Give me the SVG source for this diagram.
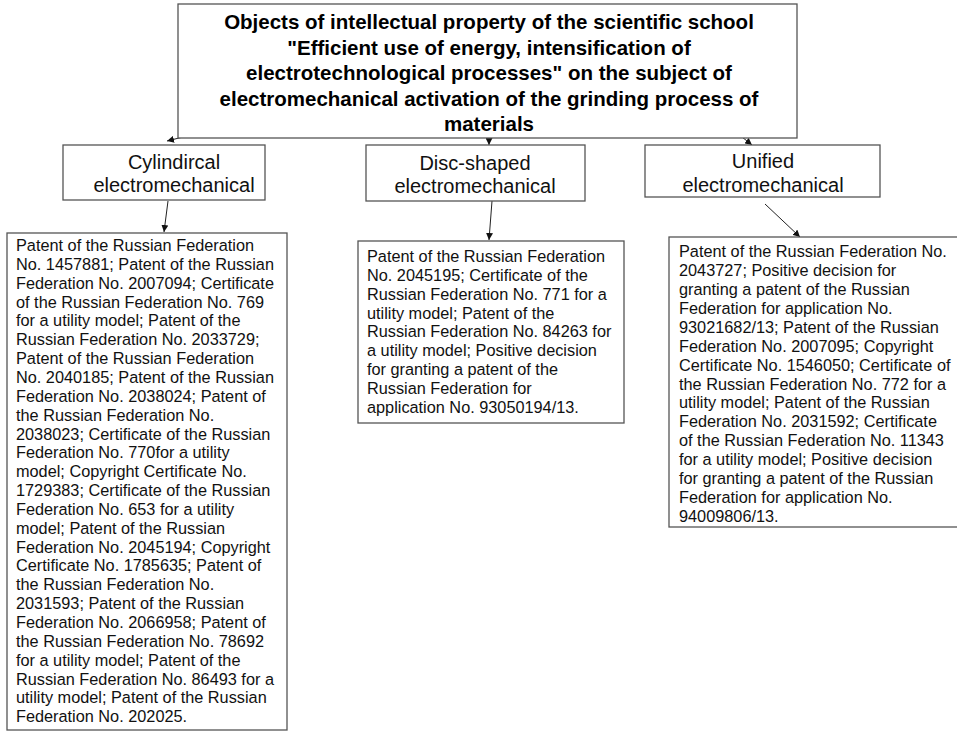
<svg xmlns="http://www.w3.org/2000/svg" width="957" height="733" viewBox="0 0 957 733">
<defs>
<marker id="ah" viewBox="0 0 10 10" refX="10" refY="5" markerWidth="7" markerHeight="7" markerUnits="userSpaceOnUse" orient="auto">
<path d="M0,0 L10,5 L0,10 z" fill="#111"/>
</marker>
<style>
.box{fill:#fff;stroke:#555;stroke-width:1.3}
.title{font-family:"Liberation Sans",Arial,sans-serif;font-size:20.5px;font-weight:bold;fill:#000;text-anchor:middle}
.sub{font-family:"Liberation Sans",Arial,sans-serif;font-size:20px;fill:#111;text-anchor:middle}
.body{font-family:"Liberation Sans",Arial,sans-serif;font-size:16.3px;fill:#111}
.conn{stroke:#222;stroke-width:1;fill:none;marker-end:url(#ah)}
</style>
</defs>
<rect width="957" height="733" fill="#fff"/>
<g id="connectors">
<line class="conn" x1="183" y1="137" x2="167" y2="141"/>
<line class="conn" x1="489" y1="138" x2="489" y2="145"/>
<line class="conn" x1="742" y1="137" x2="752" y2="145"/>
<line class="conn" x1="168" y1="201" x2="164" y2="232"/>
<line class="conn" x1="492" y1="201" x2="489" y2="240"/>
<line class="conn" x1="765" y1="204" x2="800" y2="237"/>
</g>
<g id="root">
<rect class="box" x="178" y="4" width="619" height="134"/>
<text class="title" x="489" y="29">Objects of intellectual property of the scientific school</text>
<text class="title" x="489" y="55">"Efficient use of energy, intensification of</text>
<text class="title" x="489" y="80">electrotechnological processes" on the subject of</text>
<text class="title" x="489" y="106">electromechanical activation of the grinding process of</text>
<text class="title" x="489" y="131">materials</text>
</g>
<g id="cylindrical">
<rect class="box" x="63" y="145" width="202" height="55"/>
<text class="sub" x="174" y="169">Cylindircal</text>
<text class="sub" x="174" y="192">electromechanical</text>
</g>
<g id="disc">
<rect class="box" x="366" y="145" width="219" height="56"/>
<text class="sub" x="475" y="170">Disc-shaped</text>
<text class="sub" x="475" y="193">electromechanical</text>
</g>
<g id="unified">
<rect class="box" x="645" y="145" width="235" height="52"/>
<text class="sub" x="763" y="168">Unified</text>
<text class="sub" x="763" y="192">electromechanical</text>
</g>
<g id="cylindrical-list">
<rect class="box" x="7" y="233" width="280" height="497"/>
<text class="body" x="16" y="251">
<tspan x="16" dy="0">Patent of the Russian Federation</tspan>
<tspan x="16" dy="18.85">No. 1457881; Patent of the Russian</tspan>
<tspan x="16" dy="18.85">Federation No. 2007094; Certificate</tspan>
<tspan x="16" dy="18.85">of the Russian Federation No. 769</tspan>
<tspan x="16" dy="18.85">for a utility model; Patent of the</tspan>
<tspan x="16" dy="18.85">Russian Federation No. 2033729;</tspan>
<tspan x="16" dy="18.85">Patent of the Russian Federation</tspan>
<tspan x="16" dy="18.85">No. 2040185; Patent of the Russian</tspan>
<tspan x="16" dy="18.85">Federation No. 2038024; Patent of</tspan>
<tspan x="16" dy="18.85">the Russian Federation No.</tspan>
<tspan x="16" dy="18.85">2038023; Certificate of the Russian</tspan>
<tspan x="16" dy="18.85">Federation No. 770for a utility</tspan>
<tspan x="16" dy="18.85">model; Copyright Certificate No.</tspan>
<tspan x="16" dy="18.85">1729383; Certificate of the Russian</tspan>
<tspan x="16" dy="18.85">Federation No. 653 for a utility</tspan>
<tspan x="16" dy="18.85">model; Patent of the Russian</tspan>
<tspan x="16" dy="18.85">Federation No. 2045194; Copyright</tspan>
<tspan x="16" dy="18.85">Certificate No. 1785635; Patent of</tspan>
<tspan x="16" dy="18.85">the Russian Federation No.</tspan>
<tspan x="16" dy="18.85">2031593; Patent of the Russian</tspan>
<tspan x="16" dy="18.85">Federation No. 2066958; Patent of</tspan>
<tspan x="16" dy="18.85">the Russian Federation No. 78692</tspan>
<tspan x="16" dy="18.85">for a utility model; Patent of the</tspan>
<tspan x="16" dy="18.85">Russian Federation No. 86493 for a</tspan>
<tspan x="16" dy="18.85">utility model; Patent of the Russian</tspan>
<tspan x="16" dy="18.85">Federation No. 202025.</tspan>
</text>
</g>
<g id="disc-list">
<rect class="box" x="358" y="241" width="266" height="182"/>
<text class="body" x="367" y="262">
<tspan x="367" dy="0">Patent of the Russian Federation</tspan>
<tspan x="367" dy="18.87">No. 2045195; Certificate of the</tspan>
<tspan x="367" dy="18.87">Russian Federation No. 771 for a</tspan>
<tspan x="367" dy="18.87">utility model; Patent of the</tspan>
<tspan x="367" dy="18.87">Russian Federation No. 84263 for</tspan>
<tspan x="367" dy="18.87">a utility model; Positive decision</tspan>
<tspan x="367" dy="18.87">for granting a patent of the</tspan>
<tspan x="367" dy="18.87">Russian Federation for</tspan>
<tspan x="367" dy="18.87">application No. 93050194/13.</tspan>
</text>
</g>
<g id="unified-list">
<rect class="box" x="669" y="237" width="300" height="290"/>
<text class="body" x="679" y="257">
<tspan x="679" dy="0">Patent of the Russian Federation No.</tspan>
<tspan x="679" dy="18.93">2043727; Positive decision for</tspan>
<tspan x="679" dy="18.93">granting a patent of the Russian</tspan>
<tspan x="679" dy="18.93">Federation for application No.</tspan>
<tspan x="679" dy="18.93">93021682/13; Patent of the Russian</tspan>
<tspan x="679" dy="18.93">Federation No. 2007095; Copyright</tspan>
<tspan x="679" dy="18.93">Certificate No. 1546050; Certificate of</tspan>
<tspan x="679" dy="18.93">the Russian Federation No. 772 for a</tspan>
<tspan x="679" dy="18.93">utility model; Patent of the Russian</tspan>
<tspan x="679" dy="18.93">Federation No. 2031592; Certificate</tspan>
<tspan x="679" dy="18.93">of the Russian Federation No. 11343</tspan>
<tspan x="679" dy="18.93">for a utility model; Positive decision</tspan>
<tspan x="679" dy="18.93">for granting a patent of the Russian</tspan>
<tspan x="679" dy="18.93">Federation for application No.</tspan>
<tspan x="679" dy="18.93">94009806/13.</tspan>
</text>
</g>
</svg>
